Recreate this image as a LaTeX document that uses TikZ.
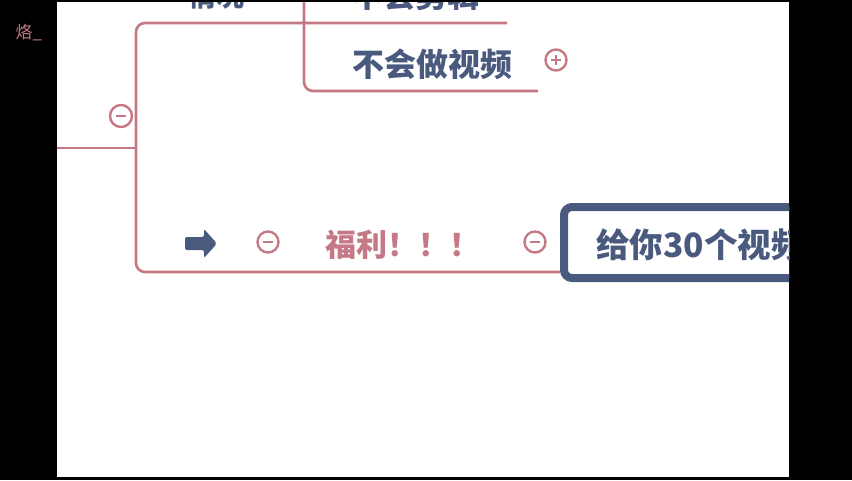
\documentclass[tikz,border=0pt]{standalone}
\usepackage{fontspec}
\newfontfamily\cjk{Noto Sans CJK SC}
\definecolor{pk}{RGB}{196,121,132}
\definecolor{nv}{RGB}{74,90,126}
\tikzset{
  branch/.style={draw=pk, line width=2.6pt, rounded corners=9pt},
  toggle/.style={circle, draw=pk, line width=2.4pt, minimum size=21pt, inner sep=0pt, fill=white},
  navytext/.style={text=nv, font=\cjk\bfseries\fontsize{32}{32}\selectfont, inner sep=0pt},
  pinktext/.style={text=pk, font=\cjk\bfseries\fontsize{31}{31}\selectfont, inner sep=0pt},
}
\begin{document}
\begin{tikzpicture}[x=1pt,y=-1pt]
\fill[black] (0,0) rectangle (852,480);
\useasboundingbox (0,0) rectangle (852,480);
\fill[white] (57,2) rectangle (789,477);
\node[text=pk, font=\cjk\fontsize{17}{17}\selectfont, inner sep=0pt] (tag) at (29,33) {烙\_};
\begin{scope}
\clip (57,2) rectangle (789,477);
% top texts (cut off)
\node[navytext, font=\cjk\bfseries\fontsize{28}{28}\selectfont] (qk) at (216,-4) {情况};
\node[navytext] (bjj) at (415,-5) {不会剪辑};
% main vertical branch
\coordinate (in) at (57,148);
\coordinate (j) at (136,148);
\draw[branch] (in) -- (j);
\draw[branch] (507,23) -- (136,23) -- (136,272) -- (560,272);
% second level branch
\draw[branch] (304,0) -- (304,91) -- (538,91);
\node[navytext] (zsp) at (432,64) {不会做视频};
\node[toggle] (plus) at (556,60) {};
\draw[pk, line width=2pt] ([xshift=-5pt]plus.center) -- ([xshift=5pt]plus.center)
  ([yshift=-5pt]plus.center) -- ([yshift=5pt]plus.center);
\node[toggle, minimum size=22pt] (m1) at (121,116) {};
\draw[pk, line width=2pt] ([xshift=-5pt]m1.center) -- ([xshift=5pt]m1.center);
% bottom row
\fill[nv, rounded corners=2pt] (185,237) -- (204,237) -- (204,229) -- (217,243.5) -- (204,258) -- (204,250) -- (185,250) -- cycle;
\node[toggle] (m2) at (268,242) {};
\draw[pk, line width=2pt] ([xshift=-5pt]m2.center) -- ([xshift=5pt]m2.center);
\node[pinktext] (fl) at (403,245) {福利！！！};
\node[toggle] (m3) at (535,242) {};
\draw[pk, line width=2pt] ([xshift=-5pt]m3.center) -- ([xshift=5pt]m3.center);
\draw[nv, line width=8pt, rounded corners=8pt, fill=white] (564,207) rectangle (820,278);
\node[navytext, font=\cjk\bfseries\fontsize{33.5}{33.5}\selectfont, anchor=west] (gn) at (596,245) {给你30个视频};
\end{scope}
\end{tikzpicture}
\end{document}
